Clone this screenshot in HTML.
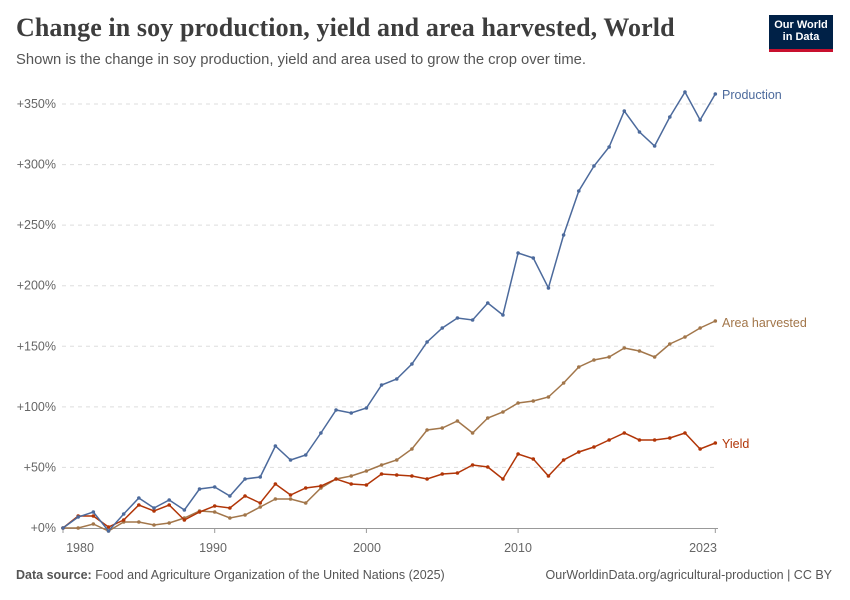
<!DOCTYPE html>
<html><head><meta charset="utf-8">
<style>
body{margin:0;background:#fff;width:850px;height:600px;overflow:hidden;font-family:"Liberation Sans",sans-serif;}
.t{position:absolute;left:16px;top:13px;font-family:"Liberation Serif",serif;font-size:26px;font-weight:bold;color:#3d3d3d;letter-spacing:0.1px;}
.s{position:absolute;left:16px;top:52px;font-size:14.8px;color:#555;}
.logo{position:absolute;left:769px;top:15px;width:64px;height:37px;background:#002147;color:#fff;font-size:11px;font-weight:bold;text-align:center;line-height:12px;padding-top:4px;box-sizing:border-box;border-bottom:3px solid #c8102e;}
.f{position:absolute;top:568px;font-size:12.5px;color:#555;}
</style></head><body>
<div class="t">Change in soy production, yield and area harvested, World</div>
<div class="s">Shown is the change in soy production, yield and area used to grow the crop over time.</div>
<div class="logo">Our World<br>in Data</div>
<svg id="c" width="850" height="600" style="position:absolute;left:0;top:0"></svg>
<div class="f" style="left:16px"><b>Data source:</b> Food and Agriculture Organization of the United Nations (2025)</div>
<div class="f" style="right:18px">OurWorldinData.org/agricultural-production | CC BY</div>
<script>
var P=[528,517,512,531,514,498,508,500,510,489,487,496,479,477,446,460,455,433,410,413,408,385,379,364,342,328,318,320,303,315,253,258,288,235,191,166,147,111,132,146,117,92,120,94];
var A=[528,528,524,531,522,522,525,523,518,511,512,518,515,507,499,499,503,488,479,476,471,465,460,449,430,428,421,433,418,412,403,401,397,383,367,360,357,348,351,357,344,337,328,321];
var Y=[528,516,516,527,520,505,511,505,520,512,506,508,496,503,484,495,488,486,479,484,485,474,475,476,479,474,473,465,467,479,454,459,476,460,452,447,440,433,440,440,438,433,449,443];
var s='';
var labs=['+0%','+50%','+100%','+150%','+200%','+250%','+300%','+350%'];
for(var i=0;i<8;i++){var y=528-i*60.57;
 if(i>0)s+='<line x1="62" x2="718" y1="'+y+'" y2="'+y+'" stroke="#ddd" stroke-dasharray="4,4"/>';
 s+='<text x="56" y="'+(y+4)+'" text-anchor="end" font-size="12.5" fill="#666">'+labs[i]+'</text>';}
s+='<line x1="62" x2="718" y1="528.5" y2="528.5" stroke="#999"/>';
function X(i){return 63+i*15.17;}
[[0,'1980',80],[10,'1990',213],[20,'2000',367],[30,'2010',518],[43,'2023',703]].forEach(function(t){
 s+='<line x1="'+X(t[0])+'" x2="'+X(t[0])+'" y1="528" y2="533" stroke="#999"/>';
 s+='<text x="'+t[2]+'" y="552" text-anchor="middle" font-size="12.5" fill="#666">'+t[1]+'</text>';});
function ser(d,c){var p=d.map(function(v,i){return X(i).toFixed(1)+','+v;}).join(' ');
 s+='<polyline points="'+p+'" fill="none" stroke="'+c+'" stroke-width="1.5"/>';
 d.forEach(function(v,i){s+='<circle cx="'+X(i)+'" cy="'+v+'" r="1.8" fill="'+c+'"/>';});}
ser(A,'#a2764a');ser(Y,'#b13507');ser(P,'#4c6a9c');
s+='<text x="722" y="99" font-size="12.5" fill="#4c6a9c">Production</text>';
s+='<text x="722" y="327" font-size="12.5" fill="#a2764a">Area harvested</text>';
s+='<text x="722" y="448" font-size="12.5" fill="#b13507">Yield</text>';
document.getElementById('c').innerHTML=s;
</script>
</body></html>
